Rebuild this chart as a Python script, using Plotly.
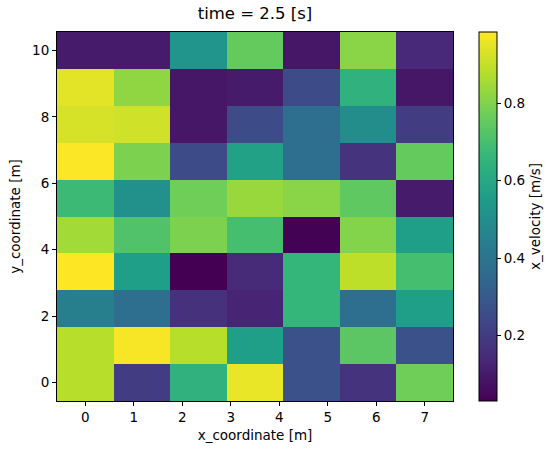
import plotly.graph_objects as go

x_coords = [0.0, 1.1667, 2.3333, 3.5, 4.6667, 5.8333, 7.0]
y_coords = [0.0, 1.1111, 2.2222, 3.3333, 4.4444, 5.5556, 6.6667, 7.7778, 8.8889, 10.0]

# rows from y=0 (bottom) to y=10 (top)
x_velocity = [
    [0.880, 0.202, 0.641, 0.956, 0.269, 0.173, 0.775],
    [0.880, 0.975, 0.880, 0.565, 0.269, 0.737, 0.269],
    [0.441, 0.374, 0.164, 0.126, 0.660, 0.374, 0.565],
    [0.985, 0.565, 0.030, 0.145, 0.660, 0.890, 0.699],
    [0.851, 0.718, 0.794, 0.699, 0.032, 0.804, 0.565],
    [0.679, 0.508, 0.775, 0.837, 0.813, 0.746, 0.102],
    [0.982, 0.794, 0.250, 0.574, 0.374, 0.173, 0.756],
    [0.928, 0.918, 0.087, 0.250, 0.374, 0.498, 0.202],
    [0.947, 0.823, 0.087, 0.102, 0.250, 0.641, 0.087],
    [0.102, 0.102, 0.527, 0.756, 0.087, 0.813, 0.140],
]

x_ticks = [0, 1, 2, 3, 4, 5, 6, 7]
y_ticks = [0, 2, 4, 6, 8, 10]
cbar_ticks = [0.2, 0.4, 0.6, 0.8]

FONT = "DejaVu Sans"
TS = 13.5

fig = go.Figure(go.Heatmap(
    x=x_coords, y=y_coords, z=x_velocity,
    colorscale="Viridis",
    colorbar=dict(
        thickness=18, len=1.0, lenmode="fraction",
        x=1.0657, xanchor="left", y=0.5, yanchor="middle",
        xpad=0, ypad=0,
        outlinewidth=1, outlinecolor="black",
        tickvals=cbar_ticks, ticks="outside", ticklen=4, tickcolor="black",
        tickfont=dict(family=FONT, size=TS, color="black"),
        title=dict(text="x_velocity [m/s]", side="right",
                   font=dict(family=FONT, size=TS, color="black")),
    ),
))

axis_common = dict(
    showline=True, mirror=True, linecolor="black", linewidth=1,
    ticks="outside", ticklen=4, tickcolor="black",
    showgrid=False, zeroline=False,
    tickfont=dict(family=FONT, size=TS, color="black"),
)

fig.update_layout(
    width=558, height=455,
    margin=dict(l=57, r=105, t=32, b=54, autoexpand=False),
    paper_bgcolor="white", plot_bgcolor="white",
    title=dict(text="time = 2.5 [s]", x=0.5, xref="paper", xanchor="center",
               y=1 - 13.5 / 455, yanchor="middle",
               font=dict(family=FONT, size=16.5, color="black")),
    xaxis=dict(range=[-7 / 12, 7 + 7 / 12], tickvals=x_ticks,
               title=dict(text="x_coordinate [m]", standoff=6,
                          font=dict(family=FONT, size=TS, color="black")),
               **axis_common),
    yaxis=dict(range=[-5 / 9, 10 + 5 / 9], tickvals=y_ticks,
               title=dict(text="y_coordinate [m]", standoff=8,
                          font=dict(family=FONT, size=TS, color="black")),
               **axis_common),
)

fig.write_html("out.html")
